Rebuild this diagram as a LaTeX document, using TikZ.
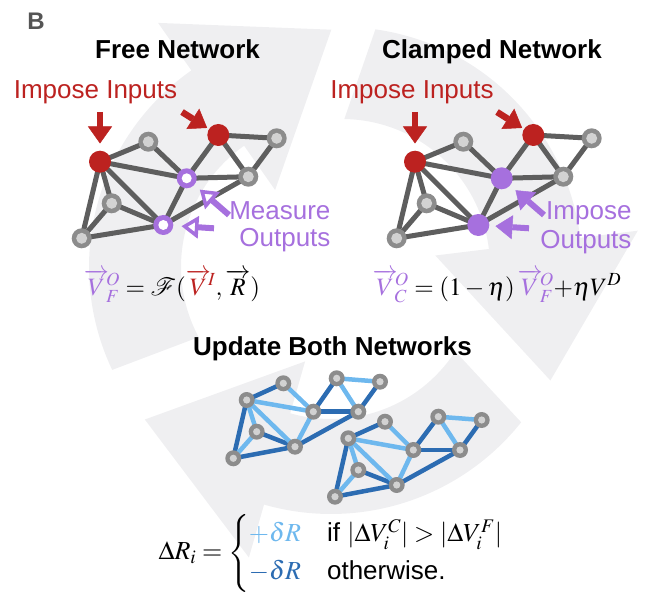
\documentclass[tikz,border=0pt]{standalone}
\usepackage{amsmath}
\usepackage{mathptmx}
\usepackage{mathrsfs}
\usepackage[no-math]{fontspec}
\setmainfont{Liberation Serif}
\newfontfamily\hv{Liberation Sans}
\usetikzlibrary{arrows.meta}
\pgfdeclarelayer{bgarrows}
\pgfdeclarelayer{netedges}
\pgfsetlayers{bgarrows,netedges,main}
\definecolor{bgc}{RGB}{239,239,241}
\definecolor{myred}{RGB}{188,34,32}
\definecolor{mypurple}{RGB}{166,112,222}
\definecolor{nodering}{RGB}{140,140,140}
\definecolor{nodefill}{RGB}{210,210,210}
\definecolor{edgegray}{RGB}{94,94,94}
\definecolor{bdark}{RGB}{44,108,178}
\definecolor{blight}{RGB}{110,184,238}
\definecolor{labgray}{RGB}{85,85,85}
\tikzset{
  gnode/.style={circle, fill=nodering, minimum size=20pt, inner sep=0pt,
    path picture={\fill[nodefill] (path picture bounding box.center) circle[radius=5.5pt];}},
  rnode/.style={circle, fill=myred, minimum size=22pt, inner sep=0pt},
  ponode/.style={circle, fill=mypurple, minimum size=20pt, inner sep=0pt,
    path picture={\fill[white] (path picture bounding box.center) circle[radius=5pt];}},
  pfnode/.style={circle, fill=mypurple, minimum size=22pt, inner sep=0pt},
  bnode/.style={circle, fill=nodering, minimum size=16pt, inner sep=0pt,
    path picture={\fill[nodefill] (path picture bounding box.center) circle[radius=3.6pt];}},
  netedge/.style={draw=edgegray, line width=5pt},
  bdk/.style={draw=bdark, line width=4.5pt},
  blt/.style={draw=blight, line width=4.5pt},
  title/.style={anchor=base, font=\hv\bfseries\fontsize{26}{31}\selectfont},
  redlab/.style={anchor=base, text=myred, font=\hv\fontsize{26}{31}\selectfont},
  purlab/.style={anchor=base east, text=mypurple, font=\hv\fontsize{26}{31}\selectfont},
  redarr/.style={draw=myred, line width=6.5pt, -{Triangle[length=17pt,width=24pt,line width=0.5pt]}},
  puropen/.style={draw=mypurple, line width=6pt, -{Triangle[fill=white,length=17pt,width=22pt,line width=3.5pt]}},
  purfull/.style={draw=mypurple, line width=6pt, -{Triangle[length=17pt,width=24pt,line width=0.5pt]}},
  eqn/.style={font=\fontsize{25}{30}\selectfont}
}
\begin{document}
\begin{tikzpicture}[x=1pt,y=-1pt]
\useasboundingbox (0,0) rectangle (664,596);
% background cycle arrows
\begin{pgfonlayer}{bgarrows}
\fill[bgc] (112.2,369.9) -- plot[domain=205.4:125,samples=60] ({329+240*cos(\x)},{267-240*sin(\x)})
  -- (158.1,22.9) -- (331.3,29.7) -- (275.1,190.0)
  -- plot[domain=125:208.3,samples=60] ({329+148*cos(\x)},{267-148*sin(\x)}) -- cycle;
\fill[bgc] (375.4,29.3) -- plot[domain=82:7,samples=60] ({342+240*cos(\x)},{267-240*sin(\x)})
  -- (637.8,230.7) -- (550.4,380.5) -- (435.3,255.5)
  -- plot[domain=7:89.1,samples=60] ({342+148*cos(\x)},{267-148*sin(\x)}) -- cycle;
\fill[bgc] (521.2,422.3) -- plot[domain=-38.5:-106,samples=60] ({331+243*cos(\x)},{271-243*sin(\x)})
  -- (248.9,557.5) -- (144.8,419.5) -- (305.1,361.4)
  -- plot[domain=-106:-32.9,samples=60] ({331+148*cos(\x)},{271-148*sin(\x)}) -- cycle;
\end{pgfonlayer}

% labels
\node[anchor=base, text=labgray, font=\hv\bfseries\fontsize{24}{28}\selectfont] (lb) at (36,30) {B};
\node[title] (tf) at (177.5,58.3) {Free Network};
\node[title] (tc) at (492,58.3) {Clamped Network};
\node[title] (tu) at (332.5,355) {Update Both Networks};
\node[redlab] (ii1) at (95.5,99) {Impose Inputs};
\node[redlab] (ii2) at (412,99) {Impose Inputs};
\node[purlab] (mo1) at (334,220) {Measure};
\node[purlab] (mo2) at (334,247) {Outputs};
\node[purlab] (io1) at (635,220) {Impose};
\node[purlab] (io2) at (635,248) {Outputs};

% free network
\node[rnode] (fA) at (100,161.7) {};
\node[gnode] (fB) at (148.3,141.7) {};
\node[rnode] (fC) at (218.3,135) {};
\node[gnode] (fD) at (276.7,138.3) {};
\node[ponode] (fE) at (186.7,178.3) {};
\node[gnode] (fF) at (248.3,176.7) {};
\node[gnode] (fG) at (111.7,203.3) {};
\node[ponode] (fH) at (163.3,225) {};
\node[gnode] (fI) at (81.7,238.3) {};
% clamped network
\node[rnode] (cA) at (415,161.7) {};
\node[gnode] (cB) at (463.3,141.7) {};
\node[rnode] (cC) at (533.3,135) {};
\node[gnode] (cD) at (591.7,138.3) {};
\node[pfnode] (cE) at (501.7,178.3) {};
\node[gnode] (cF) at (563.3,176.7) {};
\node[gnode] (cG) at (426.7,203.3) {};
\node[pfnode] (cH) at (478.3,225) {};
\node[gnode] (cI) at (396.7,238.3) {};
% updated networks
\node[bnode] (uA) at (246.7,400) {};
\node[bnode] (uB) at (283.3,383.3) {};
\node[bnode] (uC) at (336.7,378.3) {};
\node[bnode] (uD) at (380,381.7) {};
\node[bnode] (uE) at (313.3,411.7) {};
\node[bnode] (uF) at (358.3,411.7) {};
\node[bnode] (uG) at (256.7,431.7) {};
\node[bnode] (uH) at (295,446.7) {};
\node[bnode] (uI) at (233.3,458.3) {};
\node[bnode] (vA) at (348.3,438.3) {};
\node[bnode] (vB) at (385,421.7) {};
\node[bnode] (vC) at (438.3,416.7) {};
\node[bnode] (vD) at (481.7,420) {};
\node[bnode] (vE) at (413.3,450) {};
\node[bnode] (vF) at (460,450) {};
\node[bnode] (vG) at (358.3,470) {};
\node[bnode] (vH) at (396.7,485) {};
\node[bnode] (vI) at (335,496.7) {};

\begin{pgfonlayer}{netedges}
\foreach \p in {f,c}{
  \foreach \a/\b in {A/B,A/E,A/G,A/H,A/I,B/E,C/E,C/D,C/F,D/F,E/F,E/H,G/H,G/I,H/I,H/F}
    \draw[netedge] (\p\a.center) -- (\p\b.center);
}
\foreach \p in {u,v}{
  \foreach \a/\b in {A/B,C/E,D/F,E/F,G/H,H/I,H/F,A/I}
    \draw[bdk] (\p\a.center) -- (\p\b.center);
  \foreach \a/\b in {A/E,A/G,A/H,B/E,C/D,C/F,E/H,G/I}
    \draw[blt] (\p\a.center) -- (\p\b.center);
}
\end{pgfonlayer}

% input arrows
\coordinate (r1) at (100,112);
\coordinate (r2) at (182,112);
\coordinate (r3) at (415,112);
\coordinate (r4) at (497,112);
\draw[redarr, shorten >=7pt] (r1) -- (fA);
\draw[redarr, shorten >=2pt] (r2) -- (fC);
\draw[redarr, shorten >=7pt] (r3) -- (cA);
\draw[redarr, shorten >=2pt] (r4) -- (cC);
% output arrows
\coordinate (p1) at (229,215);
\coordinate (p2) at (214,228.3);
\coordinate (p3) at (544,215);
\coordinate (p4) at (529,228.3);
\draw[puropen, shorten >=7pt] (p1) -- (fE);
\draw[puropen, shorten >=8pt] (p2) -- (fH);
\draw[purfull, shorten >=7pt] (p3) -- (cE);
\draw[purfull, shorten >=6pt] (p4) -- (cH);

% equations
\node[eqn, anchor=base] (eq1) at (172,295) {$\color{mypurple}\overrightarrow{V}\!{}^{O}_{F}\color{black} = \mathscr{F}(\color{myred}\overrightarrow{V}\!{}^{I}\color{black}, \overrightarrow{R})$};
\node[eqn, anchor=base] (eq2) at (497,295) {$\color{mypurple}\overrightarrow{V}\!{}^{O}_{C}\color{black} = (1-\eta)\,\color{mypurple}\overrightarrow{V}\!{}^{O}_{F}\color{black}{+}\eta V^{D}$};
\node[font=\fontsize{26}{31}\selectfont] (eq3) at (331,553) {$\Delta R_i = \begin{cases} {\color{blight}+\delta R} & \text{\hv if } |\Delta V_i^C| > |\Delta V_i^F| \\ {\color{bdark}-\delta R} & \text{\hv otherwise.} \end{cases}$};
\end{tikzpicture}
\end{document}
